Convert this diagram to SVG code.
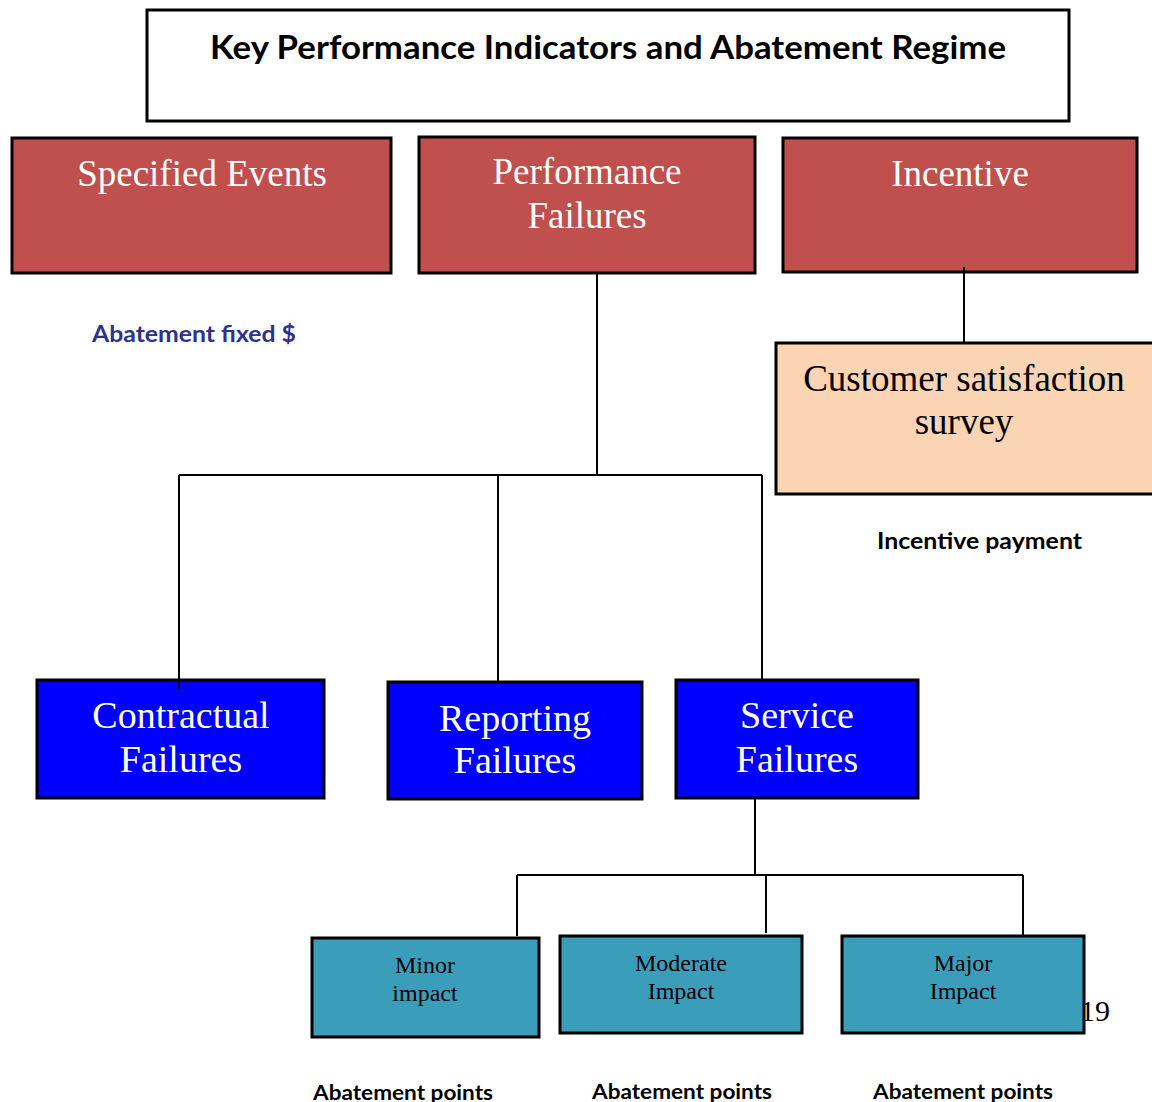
<svg xmlns="http://www.w3.org/2000/svg" width="1152" height="1102" viewBox="0 0 1152 1102">
<style>
.box{stroke:#000;stroke-width:3}
.red{fill:#C0504D}
.blue{fill:#0000FF}
.teal{fill:#3A9EBB}
.peach{fill:#FBD4B4}
.ser{font-family:"Liberation Serif","Times New Roman",serif;text-anchor:middle}
.w{fill:#fff}
.k{fill:#000}
.sb{font-family:Lato,"Open Sans",sans-serif;font-weight:bold}
.conn{stroke:#000;stroke-width:2;fill:none}
</style>
<rect width="1152" height="1102" fill="#fff"/>
<g id="title">
<rect x="147" y="10" width="922" height="111" fill="#fff" class="box"/>
<text x="608" y="59" class="sb" font-size="33" text-anchor="middle" textLength="796" lengthAdjust="spacingAndGlyphs">Key Performance Indicators and Abatement Regime</text>
</g>
<g id="specified-events">
<rect x="12" y="138" width="379" height="135" class="box red"/>
<text x="202" y="186" class="ser w" font-size="37">Specified Events</text>
</g>
<g id="performance-failures">
<rect x="419" y="137" width="336" height="136" class="box red"/>
<text x="587" y="184" class="ser w" font-size="37">Performance</text>
<text x="587" y="228" class="ser w" font-size="37">Failures</text>
</g>
<g id="incentive">
<rect x="783" y="138" width="354" height="134" class="box red"/>
<text x="960" y="186" class="ser w" font-size="37">Incentive</text>
</g>
<g id="customer-satisfaction">
<rect x="776" y="343" width="380" height="151" class="box peach"/>
<text x="964" y="391" class="ser k" font-size="37">Customer satisfaction</text>
<text x="964" y="434" class="ser k" font-size="37">survey</text>
</g>
<text x="92" y="342" class="sb" font-size="22" fill="#2E3192" textLength="204" lengthAdjust="spacingAndGlyphs">Abatement fixed $</text>
<text x="877" y="549" class="sb" font-size="22" fill="#000" textLength="205" lengthAdjust="spacingAndGlyphs">Incentive payment</text>
<g id="contractual-failures">
<rect x="37" y="680" width="287" height="118" class="box blue"/>
<text x="181" y="728" class="ser w" font-size="38">Contractual</text>
<text x="181" y="772" class="ser w" font-size="38">Failures</text>
</g>
<g id="reporting-failures">
<rect x="388" y="682" width="254" height="117" class="box blue"/>
<text x="515" y="731" class="ser w" font-size="38">Reporting</text>
<text x="515" y="773" class="ser w" font-size="38">Failures</text>
</g>
<g id="service-failures">
<rect x="676" y="680" width="242" height="118" class="box blue"/>
<text x="797" y="728" class="ser w" font-size="38">Service</text>
<text x="797" y="772" class="ser w" font-size="38">Failures</text>
</g>
<g id="minor-impact">
<rect x="312" y="938" width="227" height="99" class="box teal"/>
<text x="425" y="973" class="ser k" font-size="24">Minor</text>
<text x="425" y="1001" class="ser k" font-size="24">impact</text>
</g>
<g id="moderate-impact">
<rect x="560" y="936" width="242" height="97" class="box teal"/>
<text x="681" y="971" class="ser k" font-size="24">Moderate</text>
<text x="681" y="999" class="ser k" font-size="24">Impact</text>
</g>
<g id="major-impact">
<rect x="842" y="936" width="242" height="97" class="box teal"/>
<text x="963" y="971" class="ser k" font-size="24">Major</text>
<text x="963" y="999" class="ser k" font-size="24">Impact</text>
</g>
<g id="connectors">
<path class="conn" d="M964 267V343"/>
<path class="conn" d="M597 273V475M179 475H762M179 475V690M498 475V682M762 475V680"/>
<path class="conn" d="M755 798V875M517 875H1023M517 875V936M766 875V933M1023 875V935"/>
</g>
<text x="1095" y="1021" class="ser k" font-size="30">19</text>
<text x="313" y="1100" class="sb" font-size="21" fill="#000" textLength="180" lengthAdjust="spacingAndGlyphs">Abatement points</text>
<text x="592" y="1099" class="sb" font-size="21" fill="#000" textLength="180" lengthAdjust="spacingAndGlyphs">Abatement points</text>
<text x="873" y="1099" class="sb" font-size="21" fill="#000" textLength="180" lengthAdjust="spacingAndGlyphs">Abatement points</text>
</svg>
